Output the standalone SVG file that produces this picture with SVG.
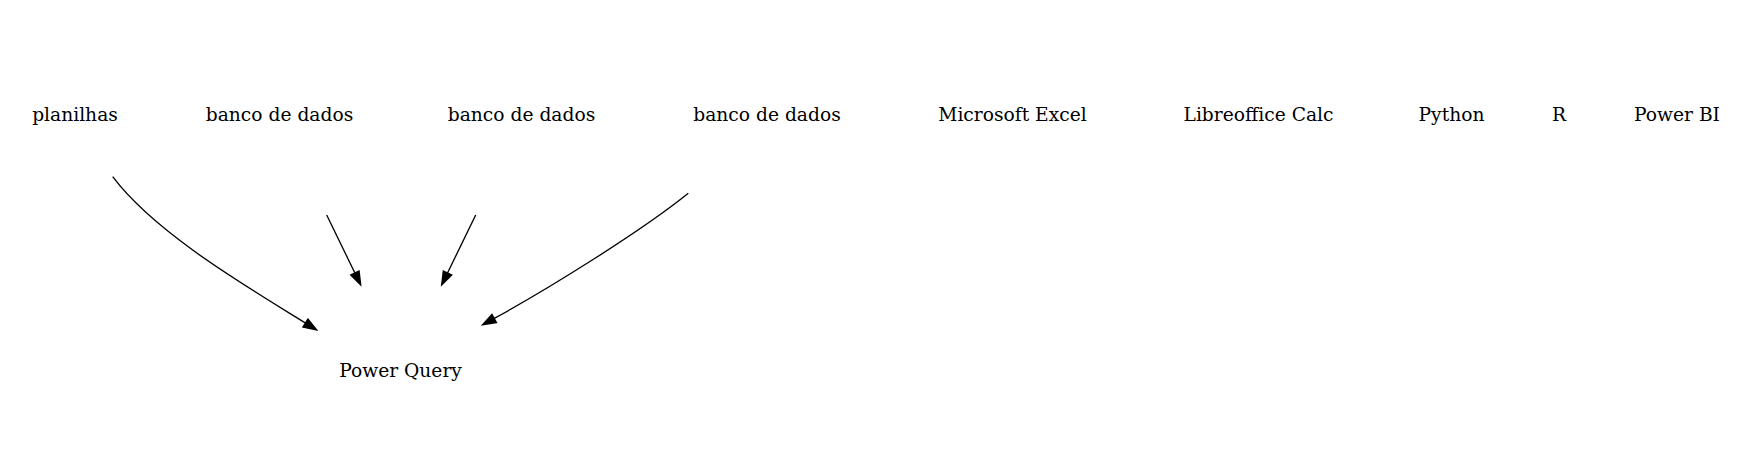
<svg xmlns="http://www.w3.org/2000/svg" width="1752" height="469" viewBox="0 0 1752 469">
<style>
.lbl { font-family: "DejaVu Serif", "Liberation Serif", serif; font-size: 18.67px; fill: #000; text-anchor: middle; }
.edge { fill: none; stroke: #000; stroke-width: 1.33; }
</style>
<defs>
<marker id="ah" markerUnits="userSpaceOnUse" markerWidth="15" markerHeight="11" refX="0" refY="5.5" orient="auto" overflow="visible">
<path d="M0,0.83 L13.3,5.5 L0,10.17 Z" fill="#000" stroke="#000" stroke-width="1.33"/>
</marker>
</defs>
<rect width="1752" height="469" fill="#fff"/>
<g id="n_planilhas"><text class="lbl" x="75" y="121">planilhas</text></g>
<g id="n_banco1"><text class="lbl" x="279.5" y="121">banco de dados</text></g>
<g id="n_banco2"><text class="lbl" x="521.5" y="121">banco de dados</text></g>
<g id="n_banco3"><text class="lbl" x="767" y="121">banco de dados</text></g>
<g id="n_excel"><text class="lbl" x="1012.5" y="121">Microsoft Excel</text></g>
<g id="n_calc"><text class="lbl" x="1258.5" y="121">Libreoffice Calc</text></g>
<g id="n_python"><text class="lbl" x="1451.5" y="121">Python</text></g>
<g id="n_r"><text class="lbl" x="1559" y="121">R</text></g>
<g id="n_powerbi"><text class="lbl" x="1677" y="121">Power BI</text></g>
<g id="n_powerquery"><text class="lbl" x="400.5" y="376.5">Power Query</text></g>
<g id="edges">
<path class="edge" marker-end="url(#ah)" d="M112.7,176.7 C154.7,232.7 245.5,285.9 305.4,323"/>
<path class="edge" marker-end="url(#ah)" d="M326.7,215 L354.9,273"/>
<path class="edge" marker-end="url(#ah)" d="M475.7,215 L447.5,273"/>
<path class="edge" marker-end="url(#ah)" d="M688.3,193.3 C641.5,231.1 546.8,289.8 494.2,318.4"/>
</g>
</svg>
